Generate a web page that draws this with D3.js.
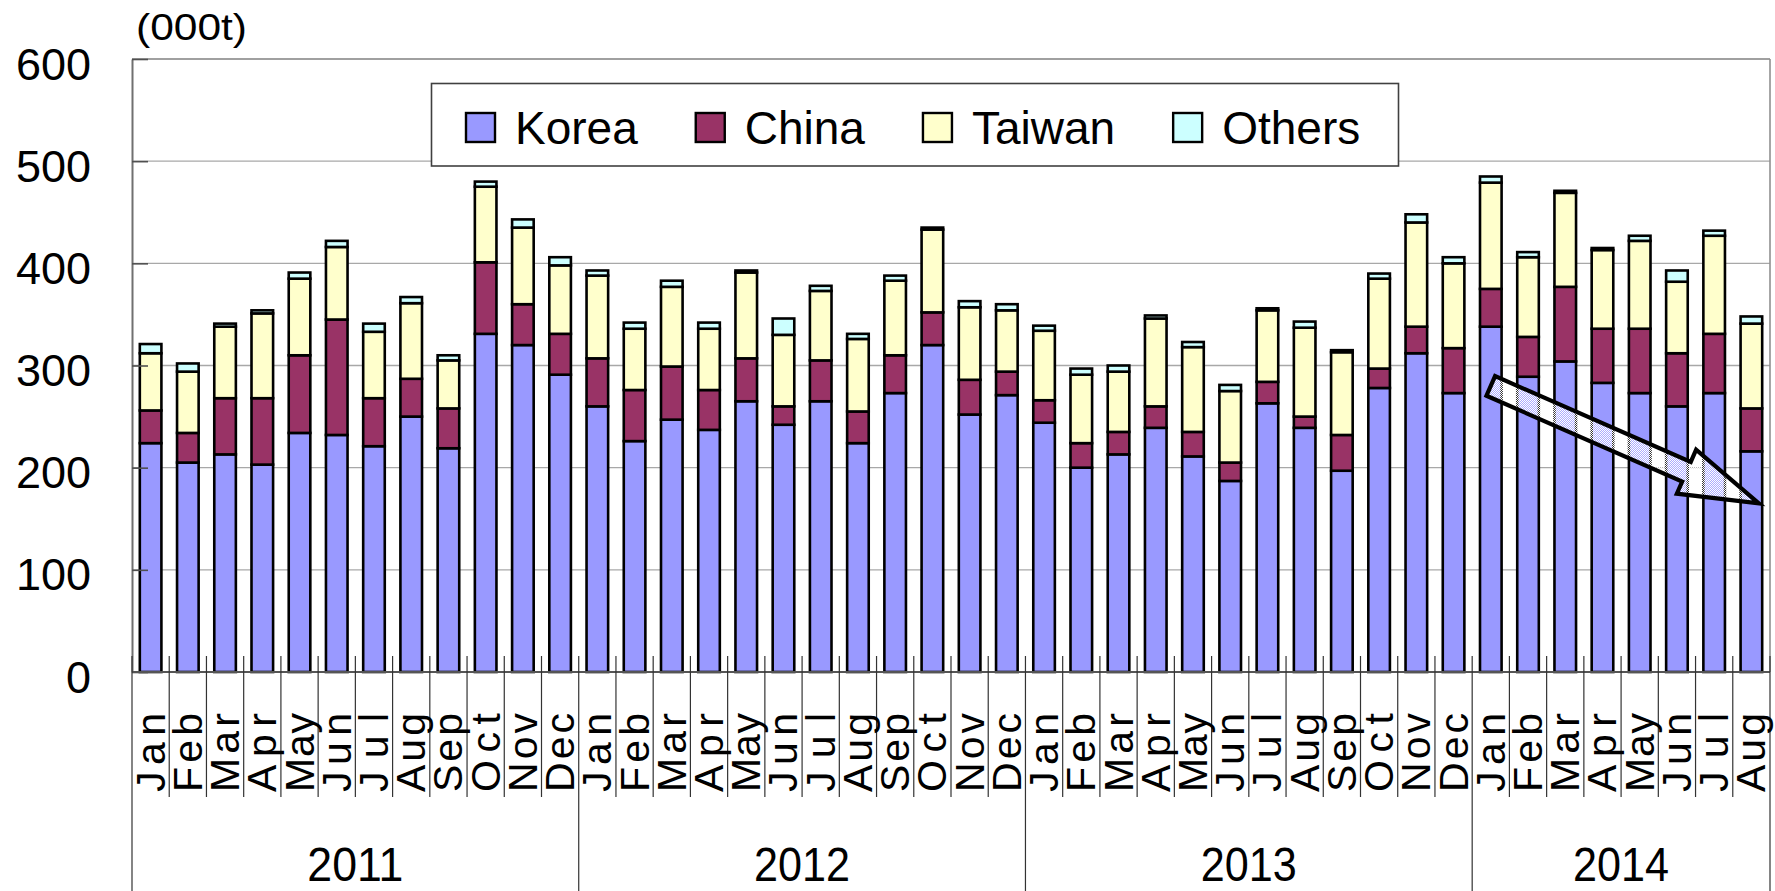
<!DOCTYPE html>
<html><head><meta charset="utf-8">
<script src="https://cdn.jsdelivr.net/npm/d3@7"></script>
<style>body{margin:0;background:#fff;overflow:hidden}</style>
</head><body>
<svg id="chart" width="1775" height="891"></svg>
<script>
// ---------- data ----------
const monthNames = ["Jan","Feb","Mar","Apr","May","Jun","Jul","Aug","Sep","Oct","Nov","Dec"];
const years = ["2011","2012","2013","2014"];
const monthsPerYear = [12, 12, 12, 8];
const seriesNames = ["Korea","China","Taiwan","Others"];
const korea = [224,205,213,203,234,232,221,250,219,331,320,291,
               260,226,247,237,265,242,265,224,273,320,252,271,
               244,200,213,239,211,187,263,239,197,278,312,273,
               338,289,304,283,273,260,273,216];
const china = [32,29,55,65,76,113,47,37,39,70,40,40,
               47,50,52,39,42,18,40,31,37,32,34,23,
               22,24,22,21,24,18,21,11,35,19,26,44,
               37,39,73,53,63,52,58,42];
const taiwan = [56,60,70,83,75,71,65,74,47,74,75,67,
                81,60,78,60,84,70,68,71,73,81,71,60,
                68,67,59,86,83,70,70,87,81,88,102,83,
                104,78,92,77,86,70,96,83];
const others = [9,8,3,3,6,6,8,6,5,5,8,8,
                5,6,6,6,2,16,5,5,5,2,6,6,
                5,6,6,3,5,6,2,6,2,5,8,6,
                6,5,2,2,5,11,5,7];
const yTicks = [0,100,200,300,400,500,600];
const unitLabel = "(000t)";
// trend arrow annotation (category index, value)
const arrowFrom = {index: 36, offset: 0, value: 280};
const arrowTo   = {index: 43, offset: 0.2, value: 165};

// ---------- build ----------
const categories = [];
years.forEach((yr, yi) => { for (let m = 0; m < monthsPerYear[yi]; m++) categories.push({year: yr, month: monthNames[m]}); });
const seriesValues = {Korea: korea, China: china, Taiwan: taiwan, Others: others};
const table = categories.map((c, i) => {
  const row = {i};
  seriesNames.forEach(s => row[s] = seriesValues[s][i]);
  return row;
});
const colors = {Korea: "#9999FF", China: "#993366", Taiwan: "#FFFFCC", Others: "#CCFFFF"};
const FONT = "'Liberation Sans', Arial, sans-serif";

const svg = d3.select("#chart");
const L = 132, R = 1770, T = 59, B = 672;

const x = d3.scaleBand().domain(d3.range(categories.length)).range([L, R]).paddingInner(0.42).paddingOuter(0.21);
const y = d3.scaleLinear().domain([0, 600]).range([B, T]);

// pattern for arrow fill (50% dither)
const defs = svg.append("defs");
const pat = defs.append("pattern").attr("id", "dither").attr("patternUnits", "userSpaceOnUse").attr("width", 2).attr("height", 2);
pat.append("rect").attr("x", 0).attr("y", 0).attr("width", 2).attr("height", 2).attr("fill", "#fff").attr("fill-opacity", 0.2);
pat.append("rect").attr("x", 0).attr("y", 0).attr("width", 1).attr("height", 1).attr("fill", "#fff");
pat.append("rect").attr("x", 1).attr("y", 1).attr("width", 1).attr("height", 1).attr("fill", "#fff");

// gridlines
svg.append("g").selectAll("line").data(yTicks.filter(v => v > 0 && v < 600)).join("line")
  .attr("x1", L).attr("x2", R).attr("y1", d => y(d)).attr("y2", d => y(d))
  .attr("stroke", "#a8a8a8").attr("stroke-width", 1.3);
// plot border top/right
svg.append("line").attr("x1", L).attr("x2", R).attr("y1", y(600)).attr("y2", y(600)).attr("stroke", "#808080").attr("stroke-width", 1.6);
svg.append("line").attr("x1", R).attr("x2", R).attr("y1", y(600)).attr("y2", B).attr("stroke", "#909090").attr("stroke-width", 1.6);

// bars
const stack = d3.stack().keys(seriesNames)(table);
svg.append("g").selectAll("g").data(stack).join("g")
  .attr("fill", d => colors[d.key])
  .selectAll("rect").data(d => d).join("rect")
  .attr("x", d => x(d.data.i))
  .attr("width", x.bandwidth())
  .attr("y", d => y(d[1]))
  .attr("height", d => y(d[0]) - y(d[1]))
  .attr("stroke", "#000").attr("stroke-width", 2.6);

// y axis
const yAxis = svg.append("g").attr("transform", `translate(${L},0)`)
  .call(d3.axisLeft(y).tickValues(yTicks).tickSizeInner(-16).tickSizeOuter(0).tickPadding(41));
yAxis.select(".domain").attr("stroke", "#707070").attr("stroke-width", 2);
yAxis.selectAll(".tick line").attr("stroke", "#505050").attr("stroke-width", 1.6);
yAxis.selectAll(".tick text").attr("font-family", FONT).attr("font-size", 45).attr("fill", "#000")
  .attr("dy", null).attr("dominant-baseline", "auto").attr("y", 20);

// x axis line
svg.append("line").attr("x1", L).attr("x2", R).attr("y1", B).attr("y2", B).attr("stroke", "#555").attr("stroke-width", 2.2);

// category boundaries
const step = x.step();
const gap = step - x.bandwidth();
const boundary = i => (i < categories.length ? x(i) - gap / 2 : x(categories.length - 1) + x.bandwidth() + gap / 2);
const yearStarts = [];
let acc = 0;
monthsPerYear.forEach(n => { yearStarts.push(acc); acc += n; });
yearStarts.push(acc);
const bIdx = d3.range(categories.length + 1);
svg.append("g").selectAll("line").data(bIdx).join("line")
  .attr("x1", d => boundary(d)).attr("x2", d => boundary(d))
  .attr("y1", B - 16)
  .attr("y2", d => yearStarts.includes(d) ? 891 : 797)
  .attr("stroke", "#333").attr("stroke-width", 1.2);

// month labels
svg.append("g").selectAll("text").data(categories).join("text")
  .attr("transform", (d, i) => `translate(${x(i) + x.bandwidth() / 2 + 14},792) rotate(-90)`)
  .attr("font-family", FONT).attr("font-size", 41).attr("text-anchor", "start")
  .attr("textLength", 79).attr("lengthAdjust", "spacing")
  .text(d => d.month);

// year labels
svg.append("g").selectAll("text").data(years).join("text")
  .attr("x", (d, yi) => (boundary(yearStarts[yi]) + boundary(yearStarts[yi + 1])) / 2)
  .attr("y", 881)
  .attr("font-family", FONT).attr("font-size", 49).attr("text-anchor", "middle")
  .text(d => d)
  .each(function(){ const w = 96; const cx = +this.getAttribute("x");
    d3.select(this).attr("text-anchor", "start").attr("x", cx - w / 2).attr("textLength", w).attr("lengthAdjust", "spacingAndGlyphs"); });

// unit label
svg.append("text").attr("x", 136).attr("y", 40).attr("font-family", FONT).attr("font-size", 36)
  .attr("textLength", 111).attr("lengthAdjust", "spacingAndGlyphs").text(unitLabel);

// legend
const lg = svg.append("g");
lg.append("rect").attr("x", 431.5).attr("y", 83.5).attr("width", 967).attr("height", 82.5)
  .attr("fill", "#fff").attr("stroke", "#404040").attr("stroke-width", 1.6);
let lx = 466;
seriesNames.forEach(s => {
  lg.append("rect").attr("x", lx).attr("y", 113).attr("width", 29).attr("height", 29)
    .attr("fill", colors[s]).attr("stroke", "#000").attr("stroke-width", 2.4);
  const t = lg.append("text").attr("x", lx + 49).attr("y", 144).attr("font-family", FONT).attr("font-size", 46).text(s);
  const w = t.node().getComputedTextLength();
  lx += 49 + w + 58;
});

// trend arrow
(function(){
  const sx = x(arrowFrom.index) + x.bandwidth() / 2 + arrowFrom.offset * step, sy = y(arrowFrom.value);
  const ex = x(arrowTo.index) + x.bandwidth() / 2 + arrowTo.offset * step, ey = y(arrowTo.value);
  const dx = ex - sx, dy = ey - sy, len = Math.hypot(dx, dy);
  const ux = dx / len, uy = dy / len, nx = -uy, ny = ux;
  const sw = 10.7, hw = 24, hl = 79;
  const bx = ex - ux * hl, by = ey - uy * hl;
  const pts = [
    [sx + nx * sw, sy + ny * sw],
    [bx + nx * sw, by + ny * sw],
    [bx + nx * hw, by + ny * hw],
    [ex, ey],
    [bx - nx * hw, by - ny * hw],
    [bx - nx * sw, by - ny * sw],
    [sx - nx * sw, sy - ny * sw]
  ];
  svg.append("path").attr("d", d3.line()(pts) + "Z")
    .attr("fill", "url(#dither)").attr("stroke", "#000").attr("stroke-width", 4.2).attr("stroke-linejoin", "miter");
})();
</script>
</body></html>
